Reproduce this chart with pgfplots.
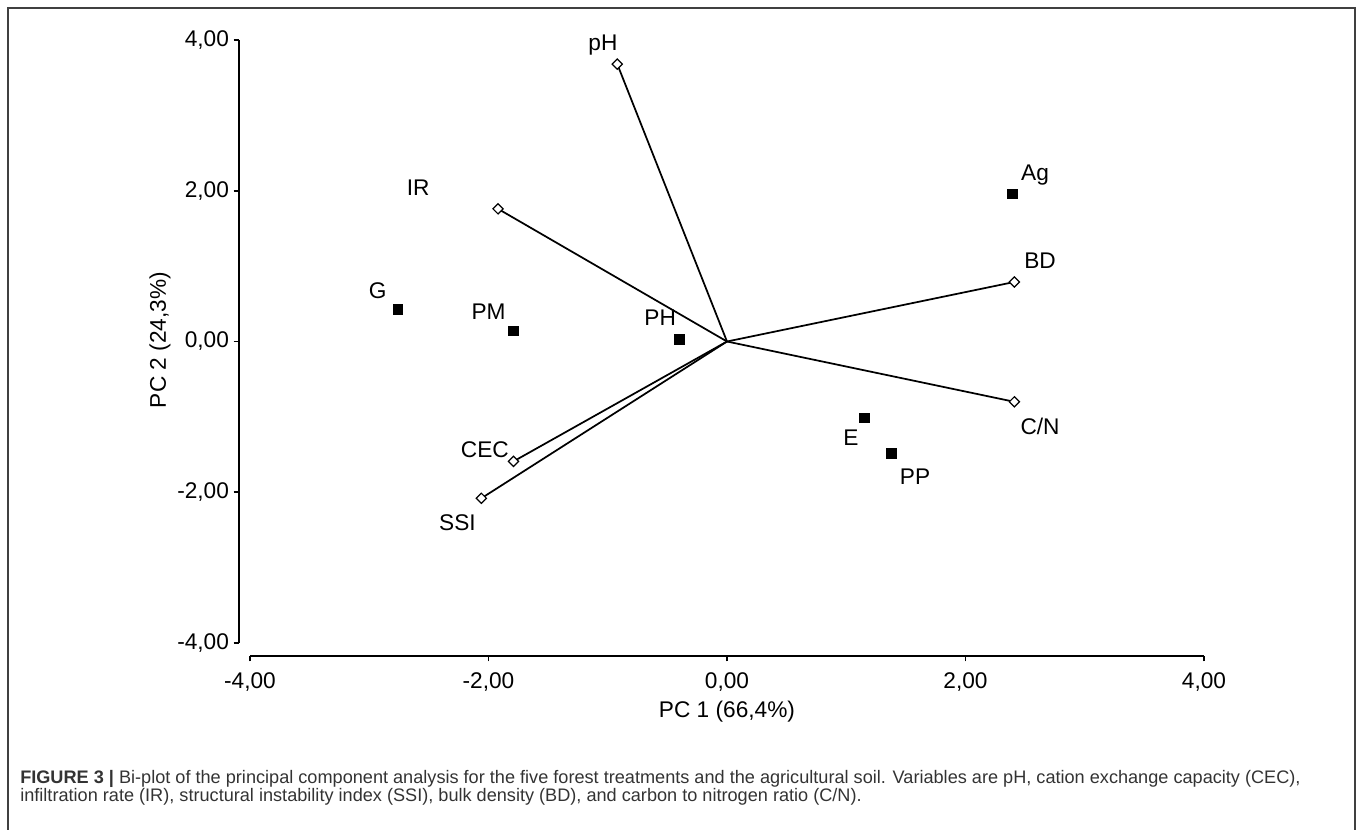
\documentclass[border=0pt]{standalone}
\usepackage{fontspec}
\setmainfont{Liberation Sans}
\usepackage{pgfplots}
\pgfplotsset{compat=1.18}
\newcommand\lbl{\fontsize{17}{20}\selectfont}
\begin{document}
\begin{tikzpicture}
\path[use as bounding box, clip] (0,0) rectangle (1020pt,-621.75pt);
\draw[black!75, line width=1.2pt] (6pt,-700pt) -- (6pt,-6pt) -- (1016.25pt,-6pt) -- (1016.25pt,-700pt);

\begin{axis}[
  at={(187.5pt,-482.25pt)}, anchor=south west,
  scale only axis, width=715.5pt, height=452.25pt,
  xmin=-4, xmax=4, ymin=-4, ymax=4,
  clip=false,
  axis lines=left,
  axis line style={-, line width=1.4pt},
  axis x line shift=9.75pt,
  axis y line shift=8.25pt,
  xtick={-4,-2,0,2,4}, ytick={-4,-2,0,2,4},
  tick align=outside, major tick length=4pt,
  tick style={line width=1.4pt, black},
  ticklabel style={font=\lbl},
  xticklabel style={yshift=-5pt, /pgf/number format/.cd, fixed, fixed zerofill, precision=2, use comma},
  yticklabel style={/pgf/number format/.cd, fixed, fixed zerofill, precision=2, use comma},
  /pgf/number format/assume math mode=true,
]
% variable vectors
\addplot[black, line width=1.3pt] coordinates {(0,0) (-0.92,3.68)};
\addplot[black, line width=1.3pt] coordinates {(0,0) (-1.92,1.76)};
\addplot[black, line width=1.3pt] coordinates {(0,0) (2.41,0.79)};
\addplot[black, line width=1.3pt] coordinates {(0,0) (2.41,-0.80)};
\addplot[black, line width=1.3pt] coordinates {(0,0) (-1.79,-1.59)};
\addplot[black, line width=1.3pt] coordinates {(0,0) (-2.06,-2.08)};
\addplot[only marks, mark=square*, mark size=2.7pt,
  mark options={rotate=45, fill=white, draw=black, line width=0.9pt}] coordinates {
  (-0.92,3.68) (-1.92,1.76) (2.41,0.79) (2.41,-0.80) (-1.79,-1.59) (-2.06,-2.08)
};
% treatments
\addplot[only marks, mark=square*, mark size=3.6pt,
  mark options={fill=black, draw=black}] coordinates {
  (2.39,1.96) (-2.76,0.43) (-1.79,0.14) (-0.40,0.03) (1.15,-1.01) (1.38,-1.48)
};
\node[font=\lbl] at (axis cs:-1.04,3.93) {pH};
\node[font=\lbl] at (axis cs:-2.59,2.04) {IR};
\node[font=\lbl] at (axis cs:2.583,2.21) {Ag};
\node[font=\lbl] at (axis cs:2.625,1.07) {BD};
\node[font=\lbl] at (axis cs:-2.93,0.68) {G};
\node[font=\lbl] at (axis cs:-2.00,0.39) {PM};
\node[font=\lbl] at (axis cs:-0.56,0.31) {PH};
\node[font=\lbl] at (axis cs:2.625,-1.13) {C/N};
\node[font=\lbl] at (axis cs:1.04,-1.27) {E};
\node[font=\lbl] at (axis cs:1.577,-1.80) {PP};
\node[font=\lbl] at (axis cs:-2.03,-1.44) {CEC};
\node[font=\lbl] at (axis cs:-2.26,-2.40) {SSI};
\end{axis}

\node[font=\lbl] at (545.25pt,-534pt) {PC 1 (66,4\%)};
\node[font=\lbl, rotate=90] at (120pt,-255pt) {PC 2 (24,3\%)};

\node[anchor=base west, inner sep=0pt, font=\fontsize{13.6}{15}\selectfont, text=black!80]
  at (15pt,-587.25pt) {\textbf{FIGURE 3 |} Bi-plot of the principal component analysis for the five forest treatments and the agricultural soil. Variables are pH, cation exchange capacity (CEC),};
\node[anchor=base west, inner sep=0pt, font=\fontsize{13.6}{15}\selectfont, text=black!80]
  at (15pt,-601pt) {infiltration rate (IR), structural instability index (SSI), bulk density (BD), and carbon to nitrogen ratio (C/N).};
\end{tikzpicture}
\end{document}
